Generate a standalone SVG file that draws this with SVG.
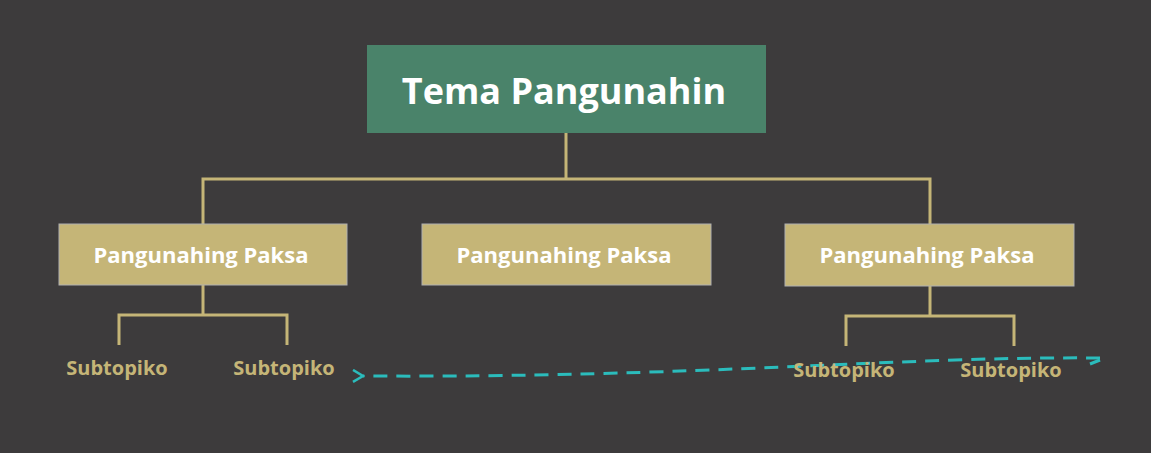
<svg xmlns="http://www.w3.org/2000/svg" width="1151" height="453" viewBox="0 0 1151 453">
<style>
.t{font-family:"Open Sans","Noto Sans","Liberation Sans",sans-serif;font-weight:bold;text-anchor:middle}
.b{fill:#c5b577;stroke:#b0b0b0;stroke-width:1}
.l{fill:none;stroke:#c5b577;stroke-width:3}
.s{fill:#c5b577;font-size:20px}
.m{fill:#fff;font-size:22px}
</style>
<defs><marker id="a" markerWidth="14" markerHeight="14" refX="2" refY="7" orient="auto" markerUnits="userSpaceOnUse"><path d="M12,1 L2,7 L12,13" fill="none" stroke="#2bbcbc" stroke-width="2.5"/></marker></defs>
<rect width="1151" height="453" fill="#3d3b3c"/>
<g id="connectors">
<path class="l" d="M566,133 V179 M203,224 V179 H930 V224"/>
<path class="l" d="M203,285 V315 M119,345 V315 H287 V345"/>
<path class="l" d="M930,286 V316 M846,346 V316 H1014 V346"/>
<path d="M1100,358 C 900,356 700,378 363,376" fill="none" stroke="#2bbcbc" stroke-width="3" stroke-dasharray="14,9" marker-end="url(#a)"/>
<path d="M1100,360 L1090,364" stroke="#2bbcbc" stroke-width="3"/>
</g>
<g id="root"><rect x="367" y="45" width="399" height="88" fill="#4a836a"/><text class="t" x="564" y="104" fill="#fff" font-size="36">Tema Pangunahin</text></g>
<g id="n1"><rect class="b" x="59" y="224" width="288" height="61"/><text class="t m" x="201" y="263">Pangunahing Paksa</text></g>
<g id="n2"><rect class="b" x="422" y="224" width="289" height="61"/><text class="t m" x="564" y="263">Pangunahing Paksa</text></g>
<g id="n3"><rect class="b" x="785" y="224" width="289" height="62"/><text class="t m" x="927" y="263">Pangunahing Paksa</text></g>
<g id="s1"><text class="t s" x="117" y="375">Subtopiko</text></g>
<g id="s2"><text class="t s" x="284" y="375">Subtopiko</text></g>
<g id="s3"><text class="t s" x="844" y="377">Subtopiko</text></g>
<g id="s4"><text class="t s" x="1011" y="377">Subtopiko</text></g>
</svg>
